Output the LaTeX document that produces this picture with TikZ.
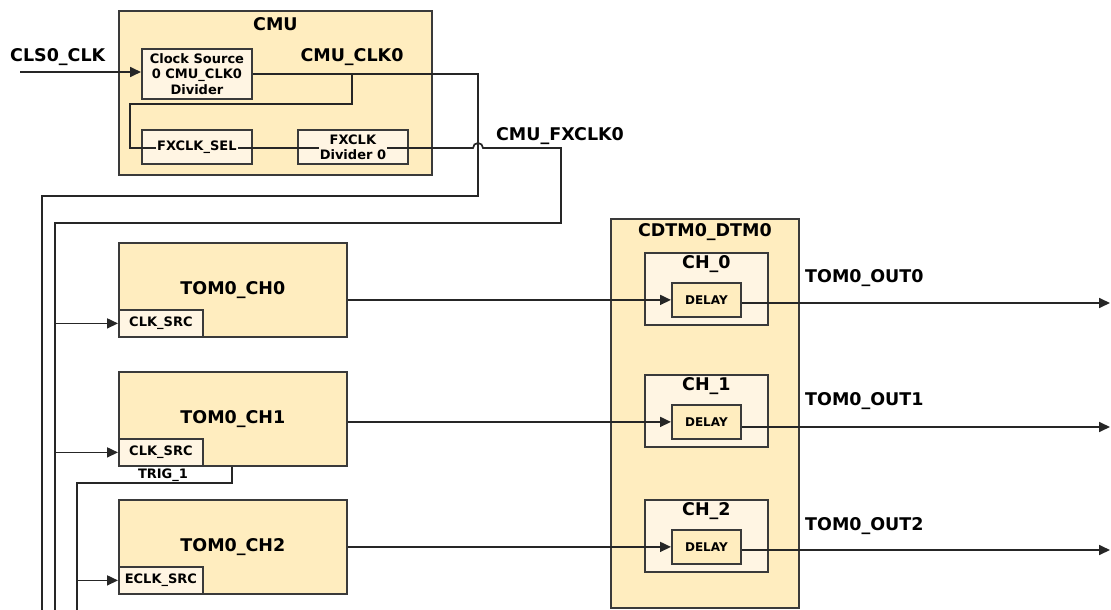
\documentclass[tikz,border=0pt]{standalone}
\usepackage{fontspec}
\setmainfont{DejaVu Sans}
\usetikzlibrary{arrows.meta,positioning,calc}
\definecolor{TomFill}{HTML}{FFEDBF}
\definecolor{TomLight}{HTML}{FFF5E3}
\definecolor{TomLine}{HTML}{3A3A3A}

\begin{document}
\begin{tikzpicture}[
      x=1pt,y=-1pt,
      blk/.style={draw=TomLine,line width=1.8pt,fill=TomFill,anchor=north west,inner sep=0pt},
      sub/.style={blk,fill=TomLight,align=center,font=\fontsize{13}{15.5}\selectfont\bfseries},
      dly/.style={blk,align=center,font=\fontsize{12}{14}\selectfont\bfseries},
      big/.style={font=\fontsize{17.5}{20}\selectfont\bfseries,inner sep=0pt},
      small/.style={font=\fontsize{13}{15}\selectfont\bfseries,inner sep=0pt},
      wire/.style={draw=black!85,line width=1.7pt},
      arrow/.style={wire,-{Triangle[length=11pt,width=10pt]}}
    ]
      \useasboundingbox (0,0) rectangle (1111,610);

      % CMU
      \node[blk,minimum width=313pt,minimum height=164pt] (cmu) at (118,10) {};
      \node[big,below=7pt of cmu.north] (cmulbl) {CMU};
      \node[sub,minimum width=110pt,minimum height=50pt] (clksrc) at (141,48) {Clock Source\\0 CMU\_CLK0\\Divider};
      \node[sub,minimum width=110pt,minimum height=34pt] (fxsel) at (141,129) {};
      \node[sub,minimum width=110pt,minimum height=34pt] (fxdiv) at (297,129) {};

      \node[big,anchor=west] (clsinlbl) at (10,57) {CLS0\_CLK};
      \node[big] (clklbl) at (352,57) {CMU\_CLK0};
      \node[big] (fxlbl) at (560,136) {CMU\_FXCLK0};

      \coordinate (clsin) at (20,72);
      \coordinate (clktap) at (352,104);
      \coordinate (selloop) at (130,104);
      \coordinate (clkdrop) at (478,196);
      \coordinate (clkbus) at (42,610);
      \coordinate (fxline) at (130,148);
      \coordinate (fxdrop) at (561,223);
      \coordinate (fxbus) at (55,610);
      \coordinate (trigtap) at (232,483);
      \coordinate (trigbus) at (77,610);

      \draw[arrow] (clsin) -- (clsin -| clksrc.west);
      \draw[wire] (clksrc.east) -| (clkdrop) -| (clkbus);
      \draw[wire] (clktap |- clksrc.east) -- (clktap) -- (selloop) -- (fxline)
        -- ($(fxline -| clkdrop)+(-5,0)$) arc[start angle=180,end angle=0,radius=5pt]
        -- (fxline -| fxdrop) -- (fxdrop) -| (fxbus);
      \node[small,fill=TomLight,inner sep=1pt] (fxseltxt) at (fxsel) {FXCLK\_SEL};
      \node[small,fill=TomLight,inner sep=1pt,align=center] (fxdivtxt) at (fxdiv) {FXCLK\\Divider 0};

      % TOM channels
      \node[blk,minimum width=228pt,minimum height=94pt,big] (tom0) at (118,242) {TOM0\_CH0};
      \node[blk,minimum width=228pt,minimum height=94pt,big] (tom1) at (118,371) {TOM0\_CH1};
      \node[blk,minimum width=228pt,minimum height=94pt,big] (tom2) at (118,499) {TOM0\_CH2};
      \node[sub,anchor=south west,minimum width=84pt,minimum height=27pt] (src0) at (tom0.south west) {CLK\_SRC};
      \node[sub,anchor=south west,minimum width=84pt,minimum height=27pt] (src1) at (tom1.south west) {CLK\_SRC};
      \node[sub,anchor=south west,minimum width=84pt,minimum height=27pt] (src2) at (tom2.south west) {ECLK\_SRC};

      \draw[arrow] (fxbus |- src0.west) -- (src0.west);
      \draw[arrow] (fxbus |- src1.west) -- (src1.west);
      \draw[wire] (trigtap |- tom1.south) -- (trigtap) -| (trigbus);
      \node[small] (triglbl) at (163,475) {TRIG\_1};
      \draw[arrow] (trigbus |- src2.west) -- (src2.west);

      % CDTM0_DTM0
      \node[blk,minimum width=188pt,minimum height=389pt] (dtm) at (610,218) {};
      \node[big,below=5pt of dtm.north] (dtmlbl) {CDTM0\_DTM0};
      \foreach \i/\y in {0/252,1/374,2/499}{
        \node[blk,fill=TomLight,minimum width=123pt,minimum height=72pt] (ch\i) at (644,\y) {};
        \node[big,below=3pt of ch\i.north] (ch\i lbl) {CH\_\i};
        \node[dly,minimum width=69pt,minimum height=34pt] (dly\i) at (671,\y+30) {DELAY};
      }
      \foreach \i/\y in {0/303,1/427,2/550}{
        \coordinate (out\i) at (1110,\y);
        \draw[arrow] (tom\i.east |- dly\i.west) -- (dly\i.west);
        \draw[arrow] (dly\i.east |- out\i) -- (out\i);
      }
      \node[big,anchor=west] (out0lbl) at (805,278) {TOM0\_OUT0};
      \node[big,anchor=west] (out1lbl) at (805,401) {TOM0\_OUT1};
      \node[big,anchor=west] (out2lbl) at (805,526) {TOM0\_OUT2};
    \end{tikzpicture}
\end{document}
